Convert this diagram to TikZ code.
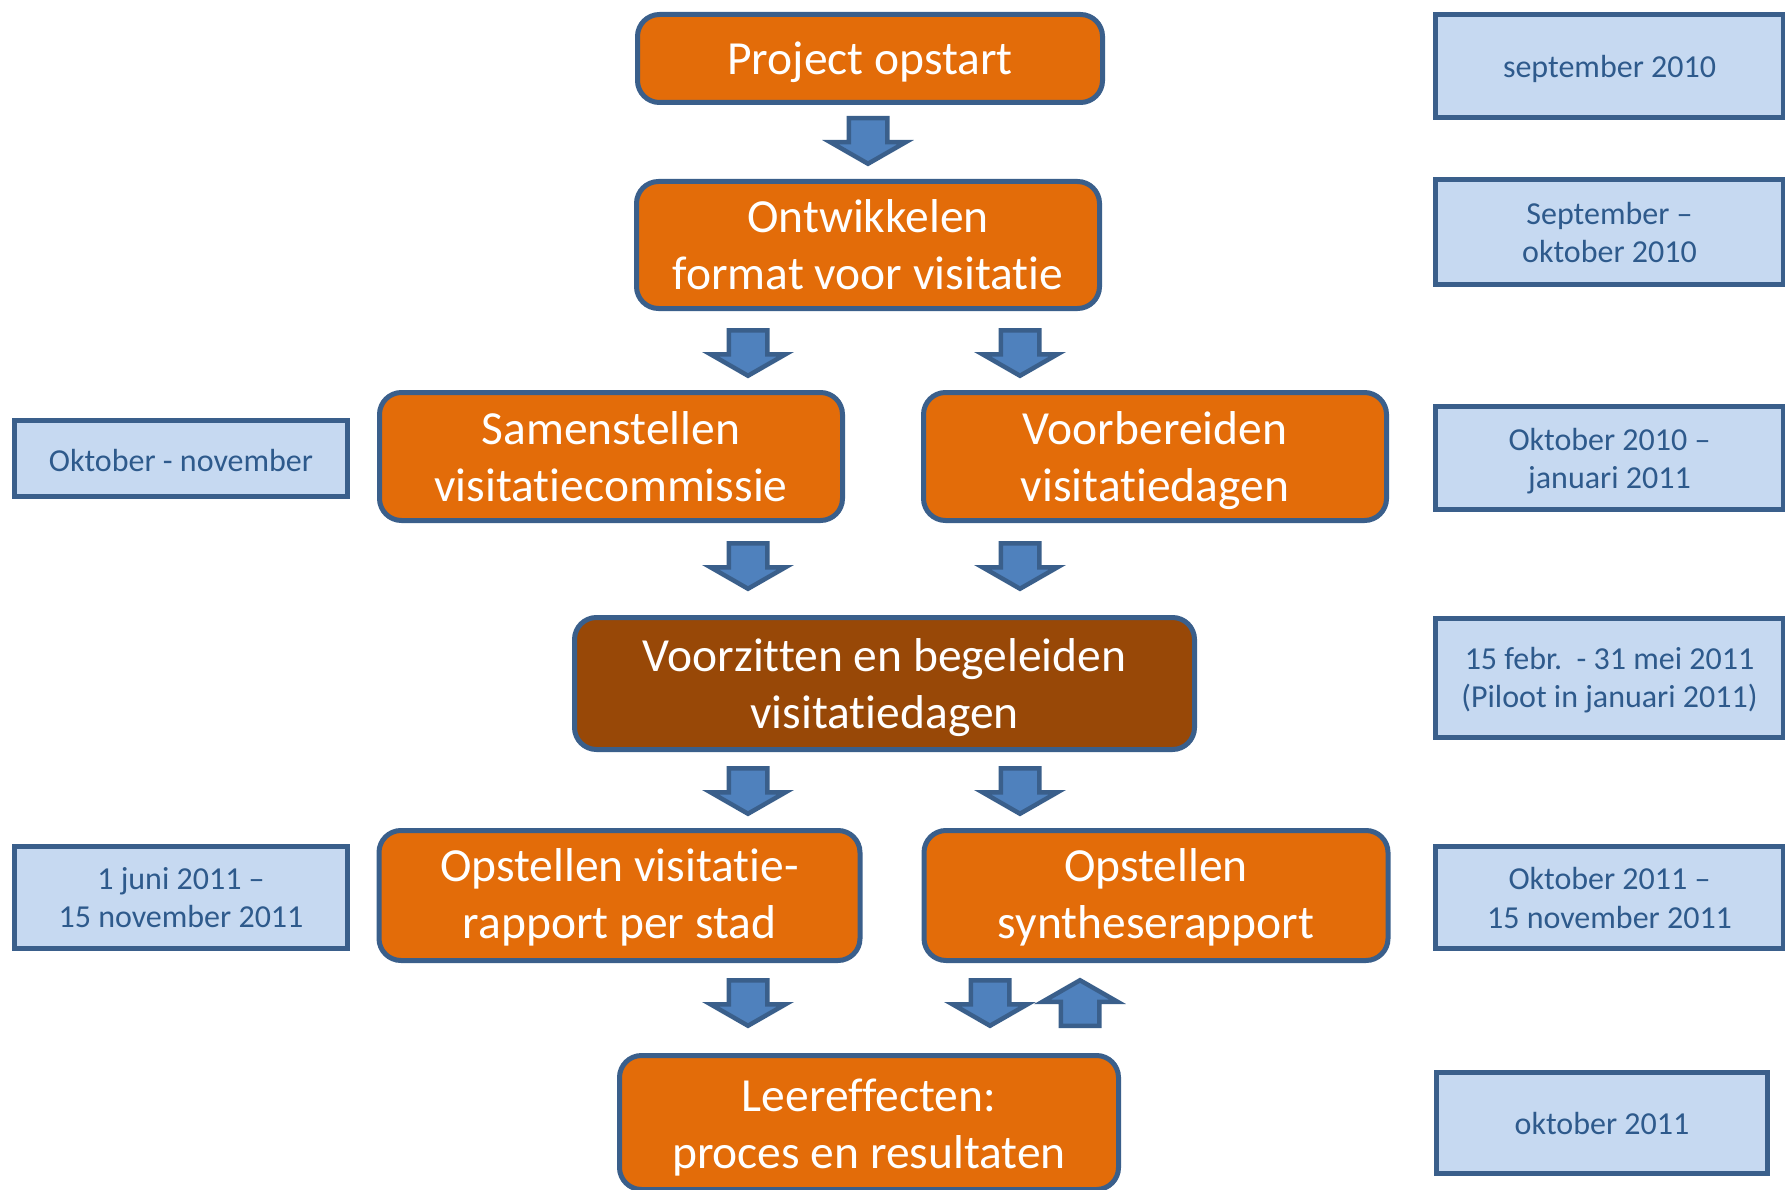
\documentclass[tikz,border=0pt]{standalone}
\usepackage{fontspec}
\setmainfont{Carlito}[Ligatures={NoCommon}]
\definecolor{orng}{HTML}{E36C09}
\definecolor{brwn}{HTML}{984807}
\definecolor{bordc}{HTML}{3A5F8B}
\definecolor{arrfill}{HTML}{4F81BD}
\definecolor{lblue}{HTML}{C6D9F1}
\definecolor{dtext}{HTML}{2E5A8C}
\tikzset{
  proc/.style={draw=bordc, line width=5pt, fill=orng, rounded corners=22pt,
    inner sep=0pt, outer sep=0pt},
  ptxt/.style={text=white, font=\fontsize{47.5}{57}\selectfont, align=center,
    inner sep=0pt, yshift=-8.5pt, execute at begin node=\strut, execute at end node=\strut},
  datebox/.style={draw=bordc, line width=5pt, fill=lblue, inner sep=0pt, outer sep=0pt},
  dtxt/.style={text=dtext, font=\fontsize{32}{38.5}\selectfont, align=center,
    inner sep=0pt, yshift=-6pt, execute at begin node=\strut, execute at end node=\strut},
  blockarrow/.pic={
    \draw[draw=bordc, fill=arrfill, line width=4.5pt, line join=miter, miter limit=6]
      (-19.25,-22.75) -- (19.25,-22.75) -- (19.25,1.25) -- (37.5,1.25) -- (0,22.75)
      -- (-37.5,1.25) -- (-19.25,1.25) -- cycle;
  }
}
\begin{document}
\begin{tikzpicture}[x=1pt, y=-1pt]
\useasboundingbox (0,0) rectangle (1785,1190);
% process boxes
\node[proc, minimum width=465pt, minimum height=88pt,
  label={[ptxt, yshift=4pt]center:Project opstart}] (proj) at (870,58.5) {};
\node[proc, minimum width=463pt, minimum height=127pt,
  label={[ptxt]center:{Ontwikkelen\\format voor visitatie}}] (ontw) at (868,245) {};
\node[proc, minimum width=463pt, minimum height=128pt,
  label={[ptxt]center:{Samenstellen\\visitatiecommissie}}] (samen) at (611,456.5) {};
\node[proc, minimum width=463pt, minimum height=128pt,
  label={[ptxt]center:{Voorbereiden\\visitatiedagen}}] (voorb) at (1155,456.5) {};
\node[proc, fill=brwn, minimum width=620pt, minimum height=132pt,
  label={[ptxt]center:{Voorzitten en begeleiden\\visitatiedagen}}] (voorz) at (884.5,683.5) {};
\node[proc, minimum width=481pt, minimum height=130pt,
  label={[ptxt, yshift=1.5pt]center:{Opstellen visitatie-\\rapport per stad}}] (opstv) at (619.5,895.5) {};
\node[proc, minimum width=464pt, minimum height=130pt,
  label={[ptxt, yshift=1.5pt]center:{Opstellen\\syntheserapport}}] (opsts) at (1156,895.5) {};
\node[proc, minimum width=499pt, minimum height=134pt,
  label={[ptxt, yshift=-1.5pt]center:{Leereffecten:\\proces en resultaten}}] (leer) at (869,1122.5) {};
% date boxes right
\node[datebox, minimum width=348pt, minimum height=103pt,
  label={[dtxt, yshift=2.5pt]center:september 2010}] (d1) at (1609.5,66) {};
\node[datebox, minimum width=348pt, minimum height=105pt,
  label={[dtxt]center:{September –\\oktober 2010}}] (d2) at (1609.5,232) {};
\node[datebox, minimum width=348pt, minimum height=103pt,
  label={[dtxt]center:{Oktober 2010 –\\januari 2011}}] (d3) at (1609.5,458) {};
\node[datebox, minimum width=348pt, minimum height=119pt,
  label={[dtxt, yshift=1pt]center:{15 febr.\ \ - 31 mei 2011\\(Piloot in januari 2011)}}] (d4) at (1609.5,678) {};
\node[datebox, minimum width=348pt, minimum height=102pt,
  label={[dtxt]center:{Oktober 2011 –\\15 november 2011}}] (d5) at (1609.5,897.5) {};
\node[datebox, minimum width=331pt, minimum height=101pt,
  label={[dtxt, yshift=2pt]center:oktober 2011}] (d6) at (1602,1123) {};
% date boxes left
\node[datebox, minimum width=333pt, minimum height=76pt,
  label={[dtxt, yshift=1pt]center:Oktober - november}] (l1) at (181,458.5) {};
\node[datebox, minimum width=333pt, minimum height=102pt,
  label={[dtxt]center:{1 juni 2011 –\\15 november 2011}}] (l2) at (181,897.5) {};
% block arrows
\pic at (868,141) {blockarrow};
\pic at (748,353) {blockarrow};
\pic at (1020,353) {blockarrow};
\pic at (748,566) {blockarrow};
\pic at (1020,566) {blockarrow};
\pic at (748,791) {blockarrow};
\pic at (1020,791) {blockarrow};
\pic at (748,1003) {blockarrow};
\pic at (990,1003) {blockarrow};
\pic[rotate=180] at (1080,1003) {blockarrow};
\end{tikzpicture}
\end{document}
